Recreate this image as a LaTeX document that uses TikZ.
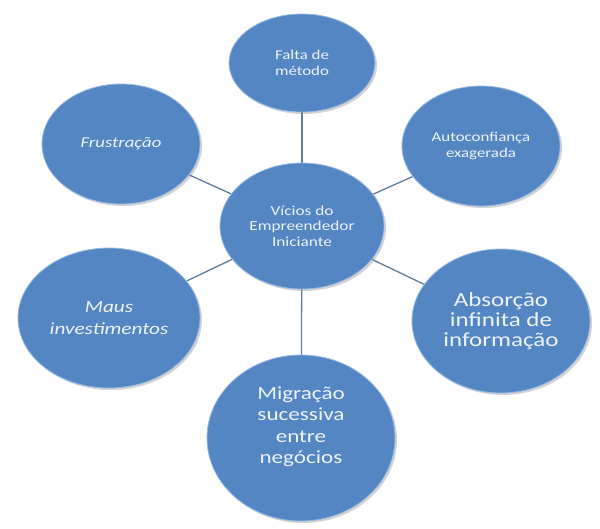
\documentclass[tikz,border=0pt]{standalone}
\usepackage{fontspec}
\setmainfont{Carlito}[FakeStretch=1.25]
\usepackage{xcolor}
\usetikzlibrary{shapes.geometric,shadows,backgrounds}
\definecolor{bolha}{RGB}{84,134,196}
\definecolor{borda}{RGB}{150,185,225}
\definecolor{linha}{RGB}{95,125,155}
\definecolor{letra}{RGB}{238,243,250}

\begin{document}
\begin{tikzpicture}[x=1pt,y=-1pt,
    vicio/.style={ellipse,inner sep=0pt,fill=bolha,draw=borda,line width=0.8pt,
      text=letra,align=center,
      drop shadow={shadow xshift=2pt,shadow yshift=-2pt,opacity=0.35}},
    ligacao/.style={draw=linha,line width=1.3pt}]
  \useasboundingbox (0,0) rectangle (600,528);
  % bolhas em volta do centro
  \node[vicio,minimum width=164pt,minimum height=126pt,font=\fontsize{13.8}{15.5}\selectfont]
    (centro) at (302,226) {Vícios do\\Empreendedor\\Iniciante};
  \node[vicio,minimum width=146pt,minimum height=98pt,font=\fontsize{13.5}{15.5}\selectfont]
    (metodo) at (302,63) {Falta de\\método};
  \node[vicio,minimum width=158pt,minimum height=120pt,font=\fontsize{13.5}{15.5}\selectfont]
    (auto) at (481,146) {Autoconfiança\\exagerada};
  \node[vicio,minimum width=158pt,minimum height=120pt,font=\fontsize{15}{17}\selectfont\itshape]
    (frust) at (121,144) {Frustração};
  \node[vicio,minimum width=182pt,minimum height=140pt,font=\fontsize{17}{22}\selectfont\itshape]
    (maus) at (109,318) {Maus\\investimentos};
  \node[vicio,minimum width=178pt,minimum height=144pt,font=\fontsize{20}{20}\selectfont]
    (absorc) at (501,321) {Absorção\\infinita de\\informação};
  \node[vicio,minimum width=188pt,minimum height=166pt,text depth=26pt,
    font=\fontsize{18.5}{21.5}\selectfont]
    (migra) at (301,438) {Migração\\sucessiva\\entre\\negócios};
  \begin{scope}[on background layer]
    \foreach \n in {metodo,auto,frust,maus,absorc,migra}
      \draw[ligacao] (centro) -- (\n);
  \end{scope}
\end{tikzpicture}
\end{document}
